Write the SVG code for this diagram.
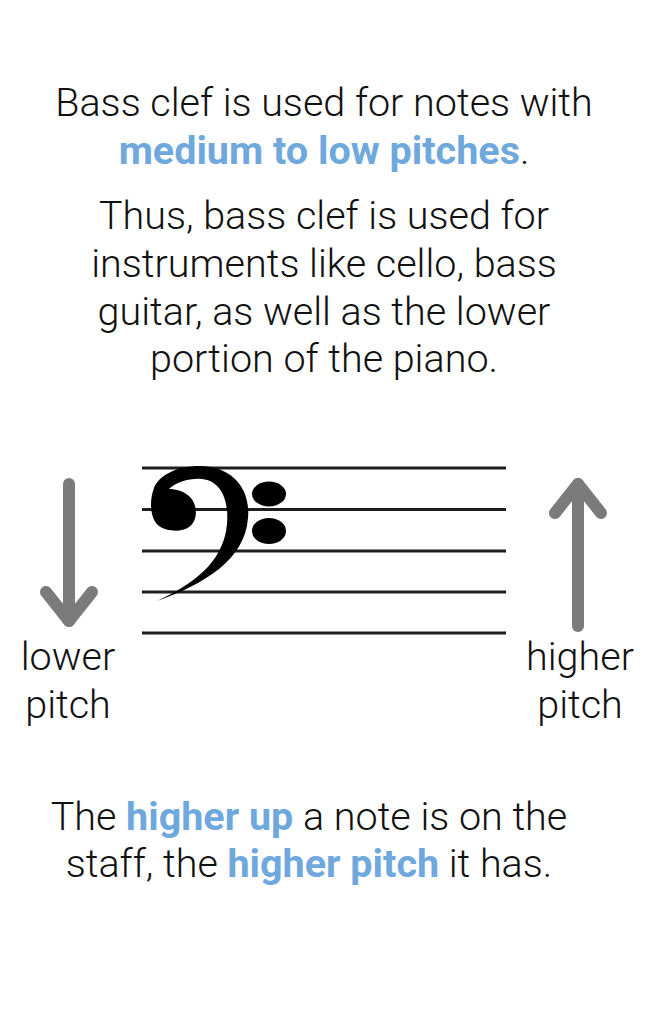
<svg xmlns="http://www.w3.org/2000/svg" width="648" height="1014" viewBox="0 0 648 1014">
<style>
.t{font-family:Roboto,"Liberation Sans",sans-serif;font-weight:300;font-size:39.5px;fill:#111;text-anchor:middle}
.b{font-weight:700;fill:#6fa8dc}
.staff{stroke:#1e1e1e;stroke-width:3}
.arrow{fill:none;stroke:#7b7b7b;stroke-width:12;stroke-linecap:round;stroke-linejoin:round}
</style>
<rect width="648" height="1014" fill="#fff"/>
<g id="intro">
<text class="t" x="324" y="116">Bass clef is used for notes with</text>
<text class="t" x="324" y="164"><tspan class="b">medium to low pitches</tspan>.</text>
</g>
<g id="explanation">
<text class="t" x="324" y="229">Thus, bass clef is used for</text>
<text class="t" x="324" y="277">instruments like cello, bass</text>
<text class="t" x="324" y="325">guitar, as well as the lower</text>
<text class="t" x="324" y="372">portion of the piano.</text>
</g>
<g id="staff">
<line class="staff" x1="142" y1="468" x2="506" y2="468"/>
<line class="staff" x1="142" y1="509.5" x2="506" y2="509.5"/>
<line class="staff" x1="142" y1="551" x2="506" y2="551"/>
<line class="staff" x1="142" y1="592" x2="506" y2="592"/>
<line class="staff" x1="142" y1="633" x2="506" y2="633"/>
</g>
<g id="bass-clef" fill="#000">
<path d="M 157 601 C 204 584 245 560 248 518 C 251 486 229 466 200 466 C 177 466 159 475 154 488 C 149 501 150 519 159 526 C 166 531 181 533 189 527 C 198 521 198 505 190 497 C 184 491 176 489 169 489 C 176 482 190 478 202 479 C 221 481 229 500 227 524 C 224 556 203 580 157 601 Z"/>
<ellipse cx="269" cy="494" rx="17" ry="12.5"/>
<ellipse cx="269" cy="531" rx="17" ry="13"/>
</g>
<g id="lower-pitch">
<polyline class="arrow" points="69,484 69,621"/>
<polyline class="arrow" points="46,592 69,621 92,592"/>
<text class="t" x="68" y="670">lower</text>
<text class="t" x="68" y="718">pitch</text>
</g>
<g id="higher-pitch">
<polyline class="arrow" points="578,626 578,484"/>
<polyline class="arrow" points="555,513 578,484 601,513"/>
<text class="t" x="580" y="670">higher</text>
<text class="t" x="580" y="718">pitch</text>
</g>
<g id="conclusion">
<text class="t" x="309" y="830">The <tspan class="b">higher up</tspan> a note is on the</text>
<text class="t" x="309" y="877">staff, the <tspan class="b">higher pitch</tspan> it has.</text>
</g>
</svg>
